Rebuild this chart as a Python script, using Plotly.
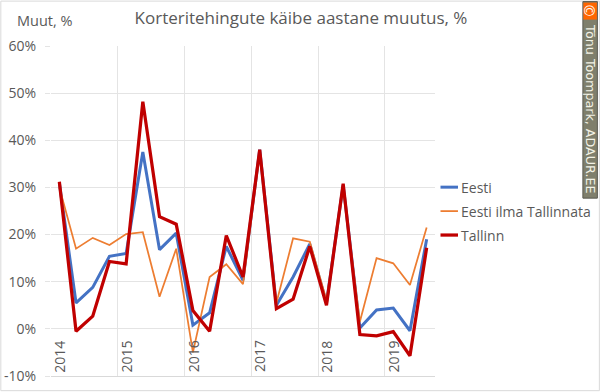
import plotly.graph_objects as go

quarters = list(range(23))
year_labels = ["2014", "2015", "2016", "2017", "2018", "2019"]
eesti = [31.0, 5.5, 8.8, 15.4, 16.0, 37.5, 16.8, 20.3, 0.8, 3.4, 17.5, 10.3, 38.0, 5.0, 11.0, 18.0, 5.5, 30.5, 0.2, 4.0, 4.4, -0.4, 19.0]
ilma = [30.0, 17.0, 19.3, 17.8, 20.1, 20.5, 6.8, 17.0, -5.0, 11.0, 13.7, 9.5, 37.5, 5.5, 19.2, 18.5, 6.0, 30.0, 1.5, 15.0, 13.9, 9.3, 21.5]
tallinn = [31.2, -0.5, 2.7, 14.3, 13.8, 48.2, 23.8, 22.2, 3.9, -0.5, 19.8, 11.0, 38.0, 4.3, 6.3, 17.5, 5.0, 30.8, -1.2, -1.5, -0.6, -5.7, 17.2]
y_ticks = [-10, 0, 10, 20, 30, 40, 50, 60]
y_tick_text = ["-10%", "0%", "10%", "20%", "30%", "40%", "50%", "60%"]
series = [("Eesti", eesti, "#4472C4", 3), ("Eesti ilma Tallinnata", ilma, "#ED7D31", 1.75), ("Tallinn", tallinn, "#C00000", 3.25)]

W, H = 600, 392
L, R, T, B = 50.7, 435, 45.5, 376.3
FONT = "Open Sans"
GREY = "#595959"
def px(x): return (x - L) / (R - L)
def py(y): return (B - y) / (B - T)

fig = go.Figure()
for name, vals, color, width in series:
    fig.add_trace(go.Scatter(x=quarters, y=vals, name=name, mode="lines", line=dict(color=color, width=width), showlegend=False))

shapes = [
    dict(type="rect", xref="paper", yref="paper", x0=px(0.5), x1=px(599.5), y0=py(0.5), y1=py(391), line=dict(color="#D9D9D9", width=1), fillcolor="rgba(0,0,0,0)", layer="below"),
    dict(type="rect", xref="paper", yref="paper", x0=px(583), x1=px(597.5), y0=py(1), y1=py(198), line=dict(color="#5A5A50", width=1), fillcolor="#7F7F6C"),
    dict(type="rect", xref="paper", yref="paper", x0=px(583.5), x1=px(597), y0=py(2), y1=py(19), line=dict(width=0), fillcolor="#FF6600"),
]
annotations = [
    dict(text="Muut, %", xref="paper", yref="paper", x=px(15), y=py(20), xanchor="left", yanchor="middle", showarrow=False, font=dict(family=FONT, size=14.5, color=GREY)),
    dict(text="Tõnu Toompark, ADAUR.EE", xref="paper", yref="paper", x=px(590.5), y=py(109), textangle=90, xanchor="center", yanchor="middle", showarrow=False, font=dict(family="DejaVu Sans", size=12.7, color="#F2F2E6")),
    dict(text="©", xref="paper", yref="paper", x=px(590.5), y=py(10.5), textangle=90, xanchor="center", yanchor="middle", showarrow=False, font=dict(family=FONT, size=14, color="#FFFFFF")),
]
for i, lab in enumerate(year_labels):
    annotations.append(dict(text=lab, x=quarters[i * 4], y=-2, xref="x", yref="y", textangle=-90, xanchor="center", yanchor="top", showarrow=False, font=dict(family=FONT, size=14, color=GREY)))
for (name, vals, color, width), ky in zip(series, (187, 211, 235)):
    shapes.append(dict(type="line", xref="paper", yref="paper", x0=px(440.5), x1=px(458), y0=py(ky), y1=py(ky), line=dict(color=color, width=width)))
    annotations.append(dict(text=name, xref="paper", yref="paper", x=px(459), y=py(ky), xanchor="left", yanchor="middle", showarrow=False, font=dict(family=FONT, size=14, color=GREY)))

fig.update_layout(
    width=W, height=H, autosize=False,
    margin=dict(l=L, r=W - R, t=T, b=H - B, pad=0, autoexpand=False),
    paper_bgcolor="#FFFFFF", plot_bgcolor="#FFFFFF",
    title=dict(text="Korteritehingute käibe aastane muutus, %", x=301 / W, xanchor="center", xref="container", y=1 - 18 / H, yanchor="middle", font=dict(family=FONT, size=17, color=GREY)),
    shapes=shapes, annotations=annotations, showlegend=False,
    xaxis=dict(range=[-0.5, 22.5], tickmode="array", tickvals=[q - 0.5 for q in quarters[::4]], showticklabels=False, ticks="", showgrid=True, gridcolor="#E4E4E4", gridwidth=1, zeroline=False, showline=True, linecolor="#D9D9D9", linewidth=1),
    yaxis=dict(range=[-10, 60], tickmode="array", tickvals=y_ticks, ticktext=y_tick_text, showgrid=True, gridcolor="#E4E4E4", gridwidth=1, zeroline=False, ticks="outside", ticklen=5, tickcolor="#E4E4E4", tickwidth=1, ticklabelstandoff=6, tickfont=dict(family=FONT, size=14, color=GREY), showline=False),
)
fig.write_html("out.html", post_script="document.body.style.margin='0';", config={"displayModeBar": False})
